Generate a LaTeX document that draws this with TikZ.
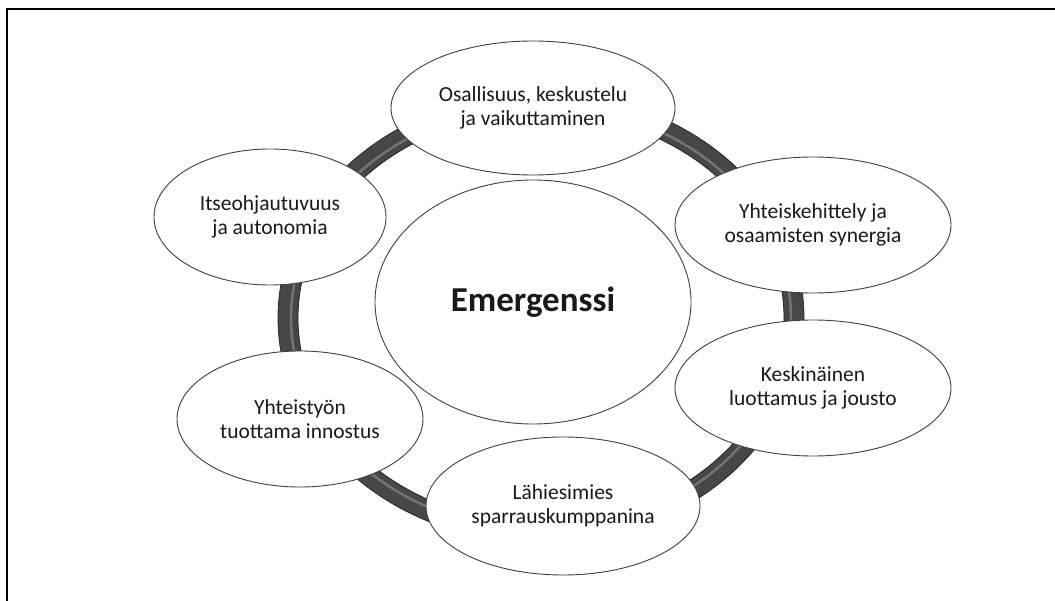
\documentclass[tikz,border=0pt]{standalone}
\usepackage{fontspec}
\setmainfont{Carlito}
\usetikzlibrary{shapes.geometric}
\tikzset{
  bubble/.style={ellipse, draw=black!75, line width=0.9pt, fill=white,
    inner sep=0pt, align=center, text=black!90,
    font=\fontsize{21.5}{23.5}\selectfont},
  ringband/.style={line width=20pt, draw=black!72},
  ringedge/.style={line width=0.8pt, draw=black!85},
  ringshine/.style={line width=2.5pt, draw=black!55},
}
\begin{document}
\begin{tikzpicture}[x=1pt,y=-1pt]
\useasboundingbox (0,0) rectangle (1055,601);
\fill[white] (0,0) rectangle (1055,601);
% outer frame (left and top edges)
\draw[line width=2.5pt, black] (7,601) -- (7,9) -- (1055,9);

% connecting ring behind the bubbles
\draw[ringband] (541,318) ellipse [x radius=253, y radius=215];
\draw[ringedge] (541,318) ellipse [x radius=263, y radius=225];
\draw[ringedge] (541,318) ellipse [x radius=243, y radius=205];
\draw[ringshine] (541,318) ellipse [x radius=250, y radius=212];

% central bubble
\node[bubble, minimum width=316pt, minimum height=244pt,
  font=\fontsize{35}{40}\selectfont\bfseries] (emg) at (533,302) {Emergenssi};

% surrounding bubbles
\node[bubble, minimum width=284pt, minimum height=134pt] (osa) at (533,108)
  {Osallisuus, keskustelu\\ja vaikuttaminen};
\node[bubble, minimum width=276pt, minimum height=136pt] (yhk) at (813,225)
  {Yhteiskehittely ja\\osaamisten synergia};
\node[bubble, minimum width=276pt, minimum height=136pt] (kes) at (813,388)
  {Keskinäinen\\luottamus ja jousto};
\node[bubble, minimum width=274pt, minimum height=138pt] (lah) at (563,506)
  {Lähiesimies\\sparrauskumppanina};
\node[bubble, minimum width=246pt, minimum height=136pt] (yht) at (300,419)
  {Yhteistyön\\tuottama innostus};
\node[bubble, minimum width=232pt, minimum height=136pt] (its) at (270,217)
  {Itseohjautuvuus\\ja autonomia};
\end{tikzpicture}
\end{document}
